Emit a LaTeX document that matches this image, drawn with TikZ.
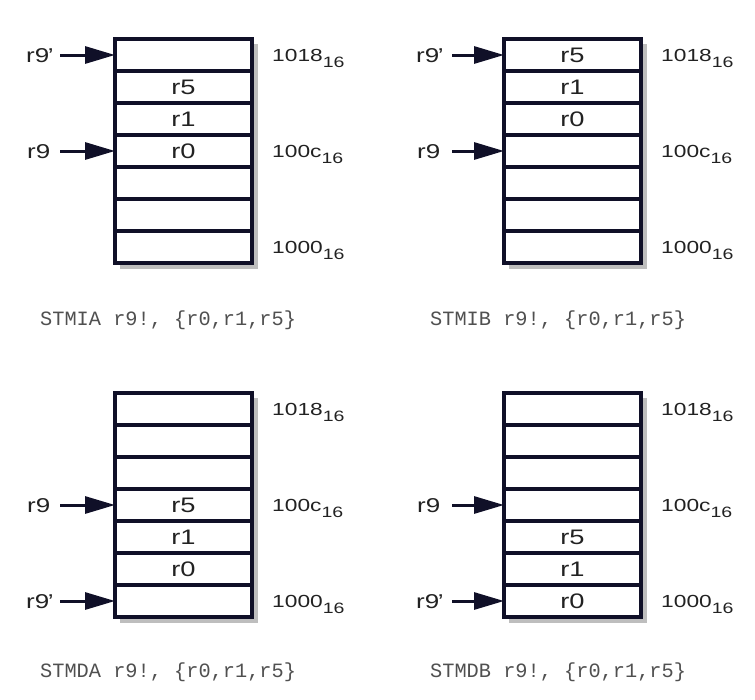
\documentclass[tikz,border=0pt]{standalone}
\usepackage{fontspec}
\setmainfont{Liberation Sans}[FakeStretch=1.3]
\newfontfamily\capfont{Liberation Mono}
\usetikzlibrary{arrows.meta}
\definecolor{linecol}{HTML}{101028}
\definecolor{txtcol}{HTML}{222222}
\definecolor{capcol}{HTML}{505050}
\definecolor{shadowcol}{HTML}{BEBEBE}
\newcommand\addrsub[1]{#1{\fontsize{15}{15}\selectfont\raisebox{-6.5pt}{16}}}
\tikzset{
  cell/.style={draw=linecol, line width=3.2pt, fill=white, minimum width=137pt,
    minimum height=32pt, inner sep=0pt, outer sep=0pt},
  celltxt/.style={text=txtcol, font=\fontsize{21}{22}\selectfont, inner sep=0pt,
    text height=15pt, text depth=0pt},
  rlab/.style={text=txtcol, font=\fontsize{20}{22}\selectfont, inner sep=0pt, anchor=base west},
  alab/.style={text=txtcol, font=\fontsize{17.5}{19}\selectfont, inner sep=0pt, anchor=base west},
  ptr/.style={draw=linecol, line width=3pt, -{Triangle[length=30pt,width=17pt]}},
  captxt/.style={text=capcol, font=\capfont\fontsize{20.3}{22}\selectfont, inner sep=0pt, anchor=west},
  shadowbox/.style={fill=shadowcol}
}
\newcommand\rprime{r9\kern-1.5pt’}
\begin{document}
\begin{tikzpicture}[x=1pt,y=-1pt]
\useasboundingbox[fill=white] (0,0) rectangle (755,699);
% stacks
\foreach \nm/\X/\Y in {tl/115/39, tr/504/39, bl/115/393, br/504/393}{
  \fill[shadowbox] (\X+5,\Y+5) rectangle (\X+143,\Y+230);
  \foreach \i in {1,...,7}{
    \node[cell] (\nm\i) at (\X+68.5,\Y+32*\i-16) {};
  }
}
% cell contents
\node[celltxt] (tl2t) at (tl2) {r5};
\node[celltxt] (tl3t) at (tl3) {r1};
\node[celltxt] (tl4t) at (tl4) {r0};
\node[celltxt] (tr1t) at (tr1) {r5};
\node[celltxt] (tr2t) at (tr2) {r1};
\node[celltxt] (tr3t) at (tr3) {r0};
\node[celltxt] (bl4t) at (bl4) {r5};
\node[celltxt] (bl5t) at (bl5) {r1};
\node[celltxt] (bl6t) at (bl6) {r0};
\node[celltxt] (br5t) at (br5) {r5};
\node[celltxt] (br6t) at (br6) {r1};
\node[celltxt] (br7t) at (br7) {r0};
% address labels
\foreach \nm/\X/\Y in {tl/272/39, tr/661/39, bl/272/393, br/661/393}{
  \node[alab] (\nm a1) at (\X,\Y+16+6) {\addrsub{1018}};
  \node[alab] (\nm a4) at (\X,\Y+112+6) {\addrsub{100c}};
  \node[alab] (\nm a7) at (\X,\Y+208+6) {\addrsub{1000}};
}
% pointers
\coordinate (tlp1) at (60,55);
\coordinate (tlp4) at (60,151);
\node[rlab] (tlr1) at (26,62) {\rprime};
\node[rlab] (tlr4) at (27,158) {r9};
\draw[ptr] (tlp1) -- (tl1.west);
\draw[ptr] (tlp4) -- (tl4.west);
\coordinate (trp1) at (452,55);
\coordinate (trp4) at (452,151);
\node[rlab] (trr1) at (416,62) {\rprime};
\node[rlab] (trr4) at (417,158) {r9};
\draw[ptr] (trp1) -- (tr1.west);
\draw[ptr] (trp4) -- (tr4.west);
\coordinate (blp4) at (60,505);
\coordinate (blp7) at (60,601);
\node[rlab] (blr4) at (27,512) {r9};
\node[rlab] (blr7) at (26,608) {\rprime};
\draw[ptr] (blp4) -- (bl4.west);
\draw[ptr] (blp7) -- (bl7.west);
\coordinate (brp4) at (452,505);
\coordinate (brp7) at (452,601);
\node[rlab] (brr4) at (417,512) {r9};
\node[rlab] (brr7) at (416,608) {\rprime};
\draw[ptr] (brp4) -- (br4.west);
\draw[ptr] (brp7) -- (br7.west);
% captions
\node[captxt] (tlcap) at (40,320) {STMIA r9!, \{r0,r1,r5\}};
\node[captxt] (trcap) at (430,320) {STMIB r9!, \{r0,r1,r5\}};
\node[captxt] (blcap) at (40,672) {STMDA r9!, \{r0,r1,r5\}};
\node[captxt] (brcap) at (430,672) {STMDB r9!, \{r0,r1,r5\}};
\end{tikzpicture}
\end{document}
